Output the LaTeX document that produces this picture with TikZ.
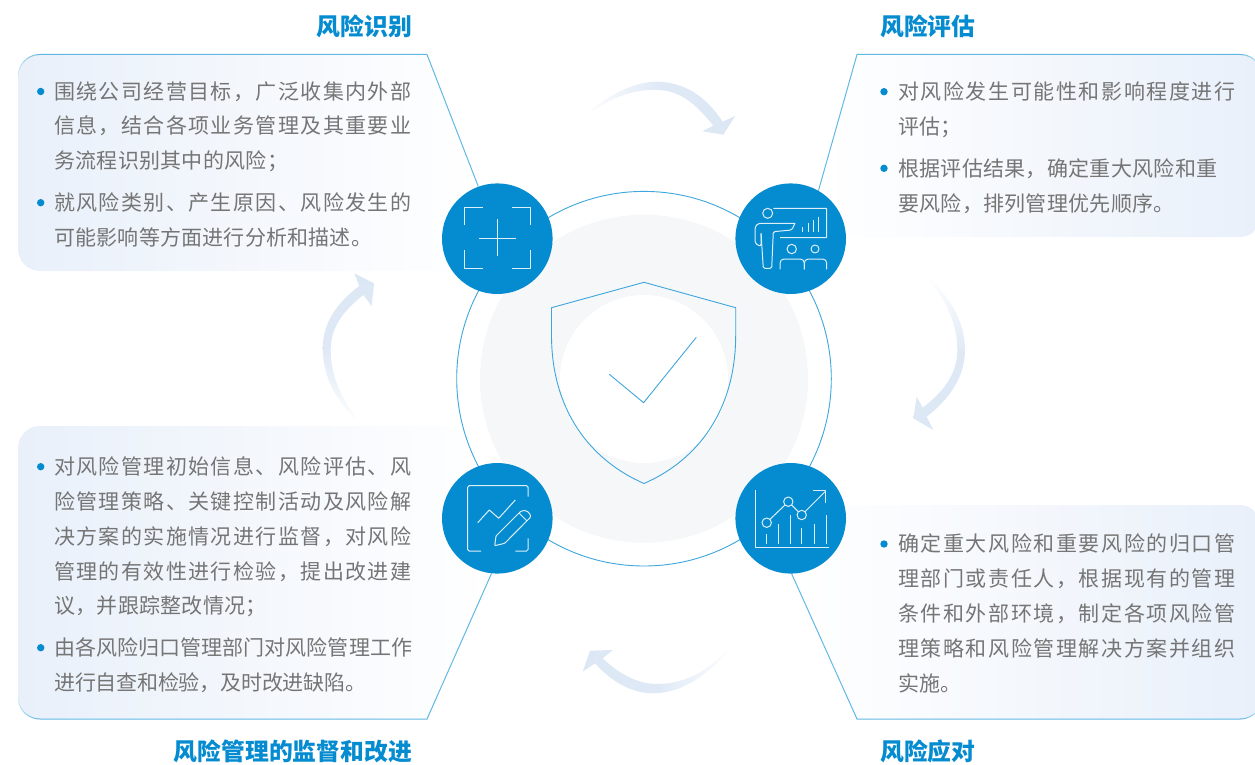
\documentclass[tikz,border=0pt]{standalone}
\usepackage{fontspec}
\setmainfont{Noto Sans CJK SC}
\usepgflibrary{shadings}
\definecolor{brand}{HTML}{058BD0}
\definecolor{ringc}{HTML}{3EA6DC}
\definecolor{bordc}{HTML}{62B8E4}
\definecolor{panelc}{HTML}{E9F0FA}
\definecolor{arrowc}{HTML}{DCE7F5}
\definecolor{discc}{HTML}{F5F7F8}
\definecolor{iconc}{HTML}{DDF0FA}
\definecolor{textc}{HTML}{757575}
\pgfdeclarelayer{bg}
\pgfsetlayers{bg,main}
\newcommand\ls[2]{{\addfontfeature{LetterSpace=#1}#2}}
\newcommand\fl{\rule{0pt}{22pt}}
\newcommand\zc{\char"FF0C\relax}
\newcommand\zs{\char"FF1B\relax}
% fading corner arc: centre x, centre y, radius, start angle, end angle (y axis points down)
\newcommand\fadearc[5]{%
  \foreach \i in {0,...,11}{%
    \pgfmathsetmacro\aa{#4+(#5-#4)*\i/12}%
    \pgfmathsetmacro\ab{#4+(#5-#4)*(\i+1)/12}%
    \pgfmathsetmacro\op{1-\i/12}%
    \draw[outline,opacity=\op,line cap=butt] ({#1+#3*cos(\aa)},{#2+#3*sin(\aa)}) -- ({#1+#3*cos((\aa+\ab)/2)},{#2+#3*sin((\aa+\ab)/2)}) -- ({#1+#3*cos(\ab)},{#2+#3*sin(\ab)});
  }%
}
\tikzset{
  para/.style={anchor=north west,inner sep=0pt,align=left,text=textc,font=\fontsize{21}{#1}\selectfont},
  head/.style={inner sep=0pt,text=brand,font=\fontsize{23.8}{28}\selectfont\bfseries},
  bullet/.style={circle,fill=brand,inner sep=0pt,minimum size=7.4pt},
  iconcircle/.style={circle,fill=brand,inner sep=0pt,minimum size=110.6pt},
  ic/.style={draw=iconc,line width=1pt,line join=round,rounded corners=0.8pt},
  outline/.style={draw=bordc,line width=1pt},
  ringline/.style={draw=ringc,line width=0.9pt},
  swoosh/.style={draw=none},
}
\begin{document}
\begin{tikzpicture}[x=1pt,y=-1pt]
\useasboundingbox (0,0) rectangle (1255,765);

% centre
\node[circle,ringline,fill=white,inner sep=0pt,minimum size=374.6pt] (ring) at (644,378.7) {};
\node[circle,fill=discc,inner sep=0pt,minimum size=328pt] (disc) at (644,378.7) {};
\node[circle,fill=white,inner sep=0pt,minimum size=168pt] (inner) at (644,379) {};
\draw[ringline,line join=round] (644,282.3) -- (735.7,307.7) -- (735.7,335)
  .. controls (735.7,410) and (698,460) .. (644,483.5)
  .. controls (590,460) and (551.5,410) .. (551.5,335) -- (551.5,307.7) -- cycle;
\draw[ringline] (609.3,374.3) -- (643.6,402.7) -- (696.3,337.3);

% icon circles
\node[iconcircle] (icon1) at (497.3,238.7) {};
\node[iconcircle] (icon2) at (790.7,238.7) {};
\node[iconcircle] (icon3) at (790.7,518.3) {};
\node[iconcircle] (icon4) at (497.3,518.3) {};

% icon 1
\draw[ic,rounded corners=0pt] (482.7,207) -- (464.3,207) -- (464.3,225);
\draw[ic,rounded corners=0pt] (512.3,207) -- (530.3,207) -- (530.3,225);
\draw[ic,rounded corners=0pt] (464.3,250.3) -- (464.3,268.7) -- (482.7,268.7);
\draw[ic,rounded corners=0pt] (512.3,268.7) -- (530.3,268.7) -- (530.3,250.3);
\draw[ic] (479.3,238) -- (516,238);
\draw[ic] (497.3,219.3) -- (497.3,256);

% icon 2
\draw[ic] (767.7,213.3) circle[radius=5];
\draw[ic] (773.3,208.3) -- (826.7,208.3) -- (826.7,237.7) -- (780,237.7);
\foreach \bx/\by in {802.7/226.7,808.3/223.3,813.3/220,818.3/216.7}
  \draw[ic] (\bx,231.7) -- (\bx,\by);
\draw[ic,rounded corners=2.5pt] (795,223.3) -- (758.3,223.3) -- (755,226.7) -- (755,243.3) -- (761,246.7) -- (761,233.3);
\draw[ic,rounded corners=1.5pt] (761,233.3) -- (763.3,268.3) -- (771.7,268.3) -- (773.3,231.7) -- (791.7,230) -- (795,223.3);
\draw[ic] (791.7,249) circle[radius=4.7];
\draw[ic] (815,249) circle[radius=4];
\draw[ic,rounded corners=4pt] (780,269.3) -- (780,259) -- (804.3,259) -- (804.3,269.3);
\draw[ic,rounded corners=4pt] (804.3,269.3) -- (804.3,259) -- (826.7,259) -- (826.7,269.3);

% icon 3
\draw[ic,rounded corners=0pt] (755,490) -- (755,547.3) -- (829,547.3);
\foreach \bx/\by in {766.7/534.3,778.3/524.3,790/515,801.7/528.3,814/524.3,826/515}
  \draw[ic] (\bx,544.3) -- (\bx,\by);
\draw[ic] (766.7,522.7) circle[radius=4.7];
\draw[ic] (788.3,501.7) circle[radius=4.7];
\draw[ic] (801.7,515) circle[radius=4.7];
\draw[ic] (770,519.3) -- (785,505);
\draw[ic] (791.7,505) -- (798.3,511.7);
\draw[ic] (805,511.7) -- (825,491.7);
\draw[ic,rounded corners=0pt] (813.3,490.7) -- (825.7,490.7) -- (825.7,503.3);

% icon 4
\draw[ic,rounded corners=1.5pt] (528,496.7) -- (528,485.7) -- (467.7,485.7) -- (467.7,551) -- (481,551);
\draw[ic,rounded corners=1.5pt] (515.3,551) -- (528,551) -- (528,538.3);
\draw[ic,rounded corners=0pt] (477.7,522.7) -- (489.3,510) -- (498.7,518.3) -- (515.3,500);
\draw[ic] (494.7,545.7) -- (496,536) -- (519.5,512.5) .. controls (523,509.5) and (528,510.5) .. (530,514.5) .. controls (530.8,516.5) and (530,518) .. (528.7,519) -- (504.7,543.3) -- cycle;
\draw[ic] (519.3,513.3) -- (527,521);

% swoosh arrows
\shade[swoosh,left color=white,right color=arrowc,middle color=arrowc!90!white]
  (580,120.7) .. controls (605,95) and (635,81.5) .. (656.7,81.7)
  .. controls (683,82) and (705,95) .. (722.7,121.7)
  -- (735.3,116) -- (723.3,134.7) -- (702.3,131.3) -- (713.3,125.7)
  .. controls (697,105) and (680,90) .. (656.7,90)
  .. controls (630,89) and (605,100) .. (580,120.7) -- cycle;
\shade[swoosh,top color=white,bottom color=arrowc,middle color=arrowc!90!white]
  (923.3,273.3) .. controls (945,290) and (965,318) .. (965,350)
  .. controls (965,378) and (948,400) .. (926.7,416.7)
  -- (933.3,430) -- (913.3,418.3) -- (916.7,396.7) -- (922.7,407.7)
  .. controls (942,393) and (957.3,375) .. (957.3,350)
  .. controls (957.3,320) and (943,295) .. (923.3,273.3) -- cycle;
\shade[swoosh,right color=white,left color=arrowc,middle color=arrowc!90!white]
  (736.7,640) .. controls (715,670) and (685,693.3) .. (653.3,693.3)
  .. controls (630,693.3) and (610,680) .. (595,663.3)
  -- (582.7,671.7) -- (590,650.7) -- (612.7,650) -- (602.7,658.3)
  .. controls (618,673) and (637,684) .. (656.7,684)
  .. controls (688,684) and (713,668) .. (736.7,640) -- cycle;
\shade[swoosh,bottom color=white,top color=arrowc,middle color=arrowc!90!white]
  (363.3,426.7) .. controls (338,405) and (322.7,378) .. (322.7,348.3)
  .. controls (322.7,322) and (338,302) .. (359.3,286)
  -- (354.3,273.3) -- (374,283.3) -- (371.7,306) -- (363.3,295)
  .. controls (342,312) and (330.7,328) .. (330.7,350)
  .. controls (330.7,380) and (345,405) .. (363.3,426.7) -- cycle;

% panels and their outlines, behind the nodes
\begin{pgfonlayer}{bg}
\begin{scope}
\clip (0,0) rectangle (1255,765);
\shade[left color=panelc,right color=white]
  [rounded corners=22pt] (478,271) -- (18,271) -- (18,54.5) [sharp corners] -- (427,54.5) -- (478,185) -- cycle;
\shade[left color=white,right color=panelc]
  (821,237) [rounded corners=20pt] -- (1260,237) -- (1260,54.5) [sharp corners] -- (857,54.5) -- (821,190) -- cycle;
\shade[left color=white,right color=panelc]
  (793,505) [rounded corners=20pt] -- (1260,505) -- (1260,719) [sharp corners] -- (857,719) -- (793,573) -- cycle;
\shade[left color=panelc,right color=white]
  [rounded corners=22pt] (493,426) -- (18,426) -- (18,719) [sharp corners] -- (427,719) -- (493,573) -- cycle;

\coordinate (tip1) at (427,54.5);
\coordinate (tip2) at (857,54.5);
\coordinate (tip3) at (857,719);
\coordinate (tip4) at (427,719);
\coordinate (end1) at (40,54.5);
\coordinate (end2) at (1240,54.5);
\coordinate (end3) at (1240,719);
\coordinate (end4) at (40,719);
\draw[outline] (icon1.110) -- (tip1) -- (end1);
\draw[outline] (icon2.60) -- (tip2) -- (end2);
\draw[outline] (icon3.-89) -- (tip3) -- (end3);
\draw[outline] (icon4.-96) -- (tip4) -- (end4);
\fadearc{40}{76.5}{22}{270}{180}
\fadearc{1240}{76.5}{22}{270}{360}
\fadearc{1240}{697}{22}{90}{0}
\fadearc{40}{697}{22}{90}{180}
\end{scope}
\end{pgfonlayer}

% headings
\node[head,anchor=east] (h1) at (412,26) {风险识别};
\node[head,anchor=west] (h2) at (880,26) {风险评估};
\node[head,anchor=west] (h3) at (880,751) {风险应对};
\node[head,anchor=east] (h4) at (412,751) {风险管理的监督和改进};

% bullets
\node[bullet] (b1a) at (40.7,91.5) {};
\node[bullet] (b1b) at (40.7,202.7) {};
\node[bullet] (b2a) at (884,91.7) {};
\node[bullet] (b2b) at (884,168.3) {};
\node[bullet] (b3a) at (884,544) {};
\node[bullet] (b4a) at (40.7,466.7) {};
\node[bullet] (b4b) at (40.7,647.7) {};

% texts
\node[para=34.4] (t1a) at (54,77.3) {\fl\ls{6.67}{围绕公司经营目标\zc 广泛收集内外部}\\\ls{6.67}{信息\zc 结合各项业务管理及其重要业}\\\ls{1.4}{务流程识别其中的风险\zs}};
\node[para=34.6] (t1b) at (54,188.7) {\fl\ls{6.67}{就风险类别、产生原因、风险发生的}\\\ls{1}{可能影响等方面进行分析和描述。}};
\node[para=34.4] (t2a) at (898,77.7) {\fl\ls{7.6}{对风险发生可能性和影响程度进行}\\\ls{1.4}{评估\zs}};
\node[para=35] (t2b) at (898,154.3) {\fl\ls{1.4}{根据评估结果\zc 确定重大风险和重}\\\ls{1.4}{要风险\zc 排列管理优先顺序。}};
\node[para=35] (t3a) at (898,529.3) {\fl\ls{7.6}{确定重大风险和重要风险的归口管}\\\ls{7.6}{理部门或责任人\zc 根据现有的管理}\\\ls{7.6}{条件和外部环境\zc 制定各项风险管}\\\ls{7.6}{理策略和风险管理解决方案并组织}\\\ls{1.4}{实施。}};
\node[para=34.7] (t4a) at (54,452.7) {\fl\ls{6.67}{对风险管理初始信息、风险评估、风}\\\ls{6.67}{险管理策略、关键控制活动及风险解}\\\ls{6.67}{决方案的实施情况进行监督\zc 对风险}\\\ls{6.67}{管理的有效性进行检验\zc 提出改进建}\\\ls{1.4}{议\zc 并跟踪整改情况\zs}};
\node[para=34.7] (t4b) at (54,633.3) {\fl\ls{0.3}{由各风险归口管理部门对风险管理工作}\\\ls{-1}{进行自查和检验\zc 及时改进缺陷。}};
\end{tikzpicture}
\end{document}
